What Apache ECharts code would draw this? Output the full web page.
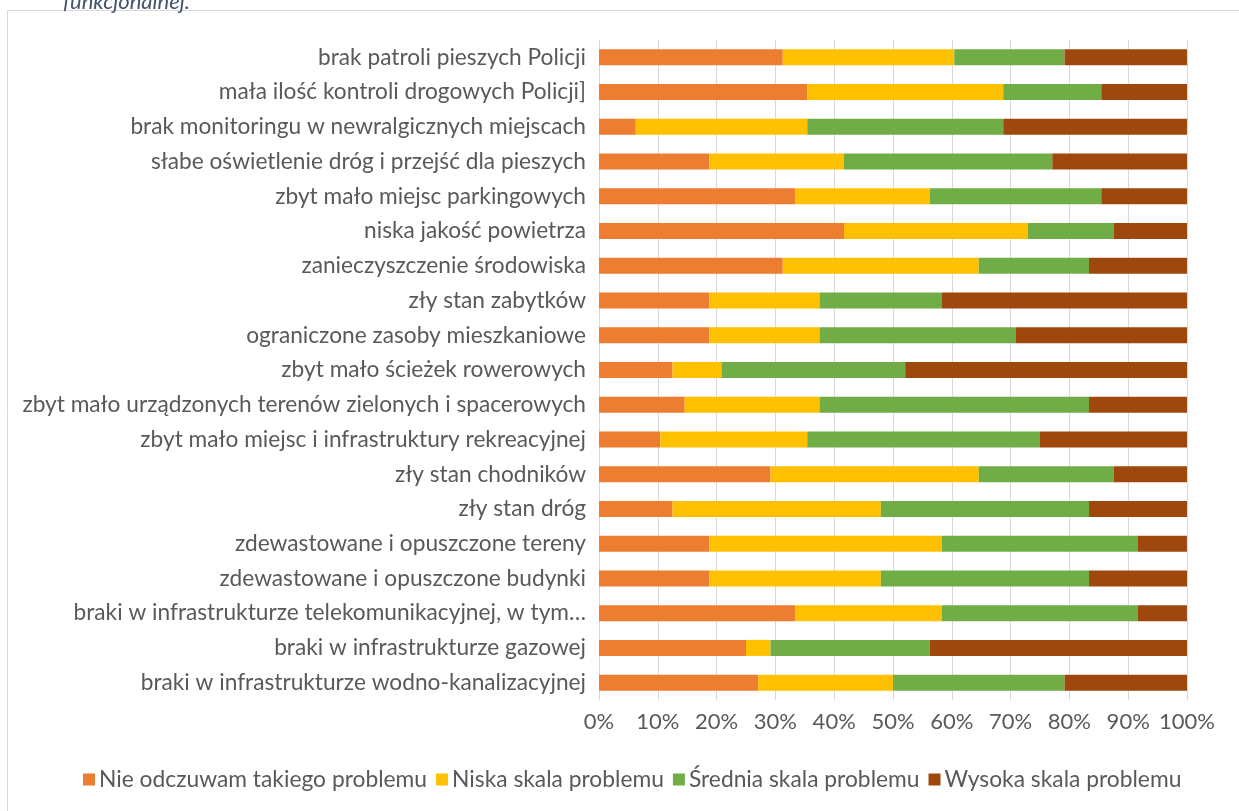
<!DOCTYPE html>
<html>
<head>
<meta charset="utf-8">
<script src="https://cdn.jsdelivr.net/npm/echarts@6/dist/echarts.min.js"></script>
<style>html,body{margin:0;padding:0;background:#fff;}#c{width:1239px;height:811px;}</style>
</head>
<body>
<div id="c"></div>
<script>
var categories = [
  "brak patroli pieszych Policji",
  "mała ilość kontroli drogowych Policji]",
  "brak monitoringu w newralgicznych miejscach",
  "słabe oświetlenie dróg i przejść dla pieszych",
  "zbyt mało miejsc parkingowych",
  "niska jakość powietrza",
  "zanieczyszczenie środowiska",
  "zły stan zabytków",
  "ograniczone zasoby mieszkaniowe",
  "zbyt mało ścieżek rowerowych",
  "zbyt mało urządzonych terenów zielonych i spacerowych",
  "zbyt mało miejsc i infrastruktury rekreacyjnej",
  "zły stan chodników",
  "zły stan dróg",
  "zdewastowane i opuszczone tereny",
  "zdewastowane i opuszczone budynki",
  "braki w infrastrukturze telekomunikacyjnej, w tym…",
  "braki w infrastrukturze gazowej",
  "braki w infrastrukturze wodno-kanalizacyjnej"
];
var seriesNames = ["Nie odczuwam takiego problemu", "Niska skala problemu", "Średnia skala problemu", "Wysoka skala problemu"];
var nieOdczuwam = [31.25, 35.42, 6.25, 18.75, 33.33, 41.67, 31.25, 18.75, 18.75, 12.50, 14.58, 10.42, 29.17, 12.50, 18.75, 18.75, 33.33, 25.00, 27.08];
var niska       = [29.17, 33.33, 29.17, 22.92, 22.92, 31.25, 33.33, 18.75, 18.75, 8.33, 22.92, 25.00, 35.42, 35.42, 39.58, 29.17, 25.00, 4.17, 22.92];
var srednia     = [18.75, 16.67, 33.33, 35.42, 29.17, 14.58, 18.75, 20.83, 33.33, 31.25, 45.83, 39.58, 22.92, 35.42, 33.33, 35.42, 33.33, 27.08, 29.17];
var wysoka      = [20.83, 14.58, 31.25, 22.92, 14.58, 12.50, 16.67, 41.67, 29.17, 47.92, 16.67, 25.00, 12.50, 16.67, 8.33, 16.67, 8.33, 43.75, 20.83];
var xTicks = [0, 10, 20, 30, 40, 50, 60, 70, 80, 90, 100];

var colors = ["#ED7D31", "#FFC000", "#70AD47", "#9E480E"];
var values = [nieOdczuwam, niska, srednia, wysoka];
var FONT = "Lato";

var chart = echarts.init(document.getElementById('c'), null, {renderer: 'canvas'});
var option = {
  animation: false,
  backgroundColor: '#fff',
  textStyle: {fontFamily: FONT},
  graphic: [
    {type: 'rect', shape: {x: 7.5, y: 10.5, width: 1400, height: 1000}, style: {fill: 'none', stroke: '#d9d9d9', lineWidth: 1}, silent: true, z: -1},
    {type: 'text', left: 63, top: -9, style: {text: 'funkcjonalnej.', font: 'italic 22px ' + FONT, fill: '#44546A'}, silent: true}
  ],
  grid: {left: 599, right: 52, top: 40, bottom: 111, containLabel: false},
  xAxis: {
    type: 'value', min: 0, max: 100, interval: 10,
    axisLine: {show: false}, axisTick: {show: false},
    splitLine: {show: true, lineStyle: {color: '#d9d9d9', width: 1}},
    axisLabel: {formatter: '{value}%', color: '#595959', fontSize: 22, fontFamily: FONT, margin: 11},
    data: xTicks
  },
  yAxis: {
    type: 'category', inverse: true, data: categories,
    axisLine: {show: true, lineStyle: {color: '#d9d9d9'}}, axisTick: {show: false},
    axisLabel: {color: '#595959', fontSize: 22.7, fontFamily: FONT, margin: 13}
  },
  legend: {
    bottom: 15, left: 78, icon: 'rect', itemWidth: 12, itemHeight: 12, itemGap: 9,
    textStyle: {color: '#595959', fontSize: 22.8, fontFamily: FONT, padding: [0, 0, 0, -1]},
    data: seriesNames
  },
  series: seriesNames.map(function (n, i) {
    return {
      name: n, type: 'bar', stack: 'total', data: values[i],
      barWidth: 16,
      itemStyle: {color: colors[i]}
    };
  })
};
chart.setOption(option);
</script>
</body>
</html>
